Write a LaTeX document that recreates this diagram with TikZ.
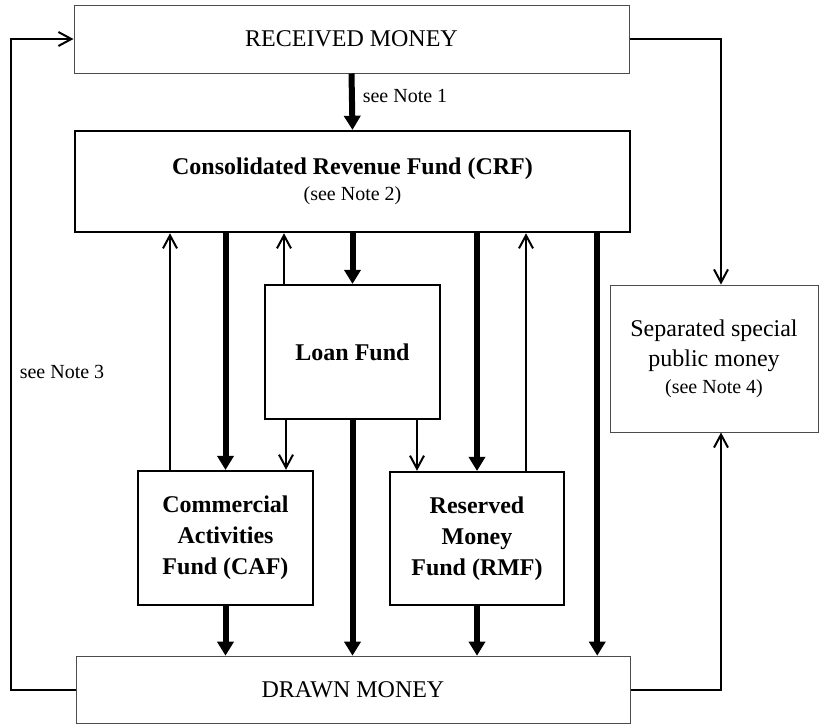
\documentclass[tikz,border=0pt]{standalone}
\usepackage{fontspec}
\setmainfont{Liberation Serif}
\usetikzlibrary{arrows.meta}

\begin{document}
\begin{tikzpicture}[x=1pt, y=-1pt,
		plainbox/.style={draw=black!70, line width=1pt, inner sep=0pt, align=center, font=\fontsize{24}{30}\selectfont},
		fundbox/.style={draw, line width=2.5pt, inner sep=0pt, align=center, font=\fontsize{24}{31}\selectfont\bfseries},
		flow/.style={line width=6pt, -{Triangle[length=14pt,width=17pt,line width=1pt]}},
		back/.style={line width=2pt, -{Straight Barb[length=13pt,width=14pt]}},
		notetext/.style={font=\fontsize{20}{24}\selectfont}]
			\useasboundingbox (0,0) rectangle (819,724);
			% boxes
			\node[plainbox, minimum width=555pt, minimum height=68pt] (recv) at (351.5,39) {RECEIVED MONEY};
			\node[fundbox, minimum width=555pt, minimum height=101pt] (crf) at (352.5,181.5)
			{Consolidated Revenue Fund (CRF)\\[-5pt]{\mdseries\fontsize{20}{24}\selectfont (see Note 2)}};
			\node[fundbox, minimum width=175pt, minimum height=134pt] (loan) at (352.5,352) {Loan Fund};
			\node[fundbox, minimum width=175pt, minimum height=134pt] (caf) at (225.5,538) {Commercial\\Activities\\Fund (CAF)};
			\node[fundbox, minimum width=174pt, minimum height=133pt] (rmf) at (477,538.5) {Reserved\\Money\\Fund (RMF)};
			\node[plainbox, minimum width=554pt, minimum height=67pt] (drawn) at (353,689.5) {DRAWN MONEY};
			\node[plainbox, minimum width=208pt, minimum height=147pt] (sep) at (714,358.5)
			{Separated special\\public money\\[-3pt]{\fontsize{20}{24}\selectfont (see Note 4)}};
			% notes
			\node[notetext] (note1) at (405,96) {see Note 1};
			\node[notetext] (note3) at (62,372) {see Note 3};
			% received into the CRF, drawn out of it
			\draw[flow] (recv.south) -- (crf.north);
			\draw[flow] (crf.south -| caf.north) -- (caf.north);
			\draw[flow] (crf.south -| loan.north) -- (loan.north);
			\draw[flow] (crf.south -| rmf.north) -- (rmf.north);
			\draw[flow] ([xshift=-34pt]crf.south east) -- ([xshift=-34pt]crf.south east |- drawn.north);
			\draw[flow] (loan.south) -- (loan.south |- drawn.north);
			\draw[flow] (caf.south) -- (caf.south |- drawn.north);
			\draw[flow] (rmf.south) -- (rmf.south |- drawn.north);
			% back to the CRF
			\draw[back] ([xshift=-55.5pt]caf.north) -- ([xshift=-55.5pt]caf.north |- crf.south);
			\draw[back] ([xshift=-68.5pt]loan.north) -- ([xshift=-68.5pt]loan.north |- crf.south);
			\draw[back] ([xshift=49pt]rmf.north) -- ([xshift=49pt]rmf.north |- crf.south);
			\draw[back] ([xshift=-66.5pt]loan.south) -- ([xshift=-66.5pt]loan.south |- caf.north);
			\draw[back] ([xshift=64.5pt]loan.south) -- ([xshift=64.5pt]loan.south |- rmf.north);
			% outer loops
			\draw[back] (drawn.west) -- ++(-65,0) |- (recv.west);
			\draw[back] (recv.east) -| ([xshift=7pt]sep.north);
			\draw[back] (drawn.east) -| ([xshift=7pt]sep.south);
		\end{tikzpicture}
\end{document}
